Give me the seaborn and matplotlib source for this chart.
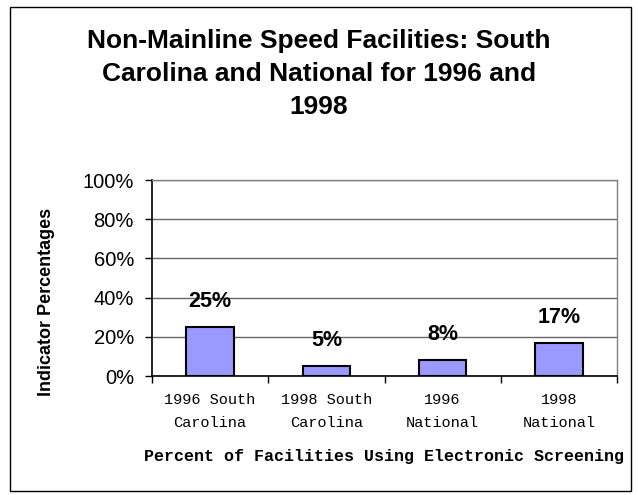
import matplotlib
matplotlib.use("Agg")
import matplotlib.pyplot as plt
import seaborn as sns
import pandas as pd
from matplotlib.patches import Rectangle

categories = ["1996 South\nCarolina", "1998 South\nCarolina", "1996\nNational", "1998\nNational"]
values = [25, 5, 8, 17]
labels = ["25%", "5%", "8%", "17%"]
yticks = [0, 20, 40, 60, 80, 100]
title = "Non-Mainline Speed Facilities: South\nCarolina and National for 1996 and\n1998"
xlabel = "Percent of Facilities Using Electronic Screening"
ylabel = "Indicator Percentages"

sns.set_style("white")
plt.rcParams['font.family'] = ['Liberation Sans', 'DejaVu Sans']
plt.rcParams.update({"text.color": "black", "axes.labelcolor": "black",
                     "xtick.color": "black", "ytick.color": "black"})

df = pd.DataFrame({"cat": categories, "val": values})

fig = plt.figure(figsize=(6.38, 4.95), dpi=100)
ax = fig.add_axes([152/638, 1-376/495, 465/638, 196/495])

sns.barplot(data=df, x="cat", y="val", color="#9999FF", edgecolor="black",
            linewidth=1.5, width=0.41, saturation=1, ax=ax, zorder=3)

ax.set_ylim(0, 100)
ax.set_xlim(-0.5, 3.5)
ax.set_yticks(yticks)
ax.set_yticklabels([f"{t}%" for t in yticks], fontsize=14.5)
ax.yaxis.grid(True, color="#666666", linewidth=1, zorder=0)
ax.set_axisbelow(True)

ax.tick_params(axis='y', direction='out', length=5, width=1, color='black', left=True, pad=8)
ax.set_xticks(range(len(categories)))
ax.set_xticklabels(categories, family=['Liberation Mono', 'DejaVu Sans Mono'], fontsize=11, linespacing=1.85)
ax.tick_params(axis='x', which='major', length=0, pad=12)
ax.set_xticks([i - 0.5 for i in range(len(categories) + 1)], minor=True)
ax.tick_params(axis='x', which='minor', direction='out', length=5, width=1, color='black', bottom=True)

for s in ["left", "bottom"]:
    ax.spines[s].set_color("black")
    ax.spines[s].set_linewidth(1.2)
for s in ["top", "right"]:
    ax.spines[s].set_visible(True)
    ax.spines[s].set_color("#808080")
    ax.spines[s].set_linewidth(1)

for i, (v, lab) in enumerate(zip(values, labels)):
    ax.text(i, v + 13, lab, ha="center", va="center", fontsize=15.5, fontweight="bold", zorder=5)

ax.set_xlabel(xlabel, family=['Liberation Mono', 'DejaVu Sans Mono'], fontsize=12, fontweight="bold", labelpad=14)
ax.set_ylabel("")
fig.text(47/638, 1-302/495, ylabel, rotation=90, ha="center", va="center", fontsize=13, fontweight="bold")

fig.text(0.5, 1-74/495, title, ha="center", va="center", fontsize=19, fontweight="bold", linespacing=1.47)

fig.patches.append(Rectangle((10/638, 1-491/495), 621/638, 484/495, transform=fig.transFigure,
                             fill=False, edgecolor="black", linewidth=1))

fig.savefig("out.png", dpi=100)
